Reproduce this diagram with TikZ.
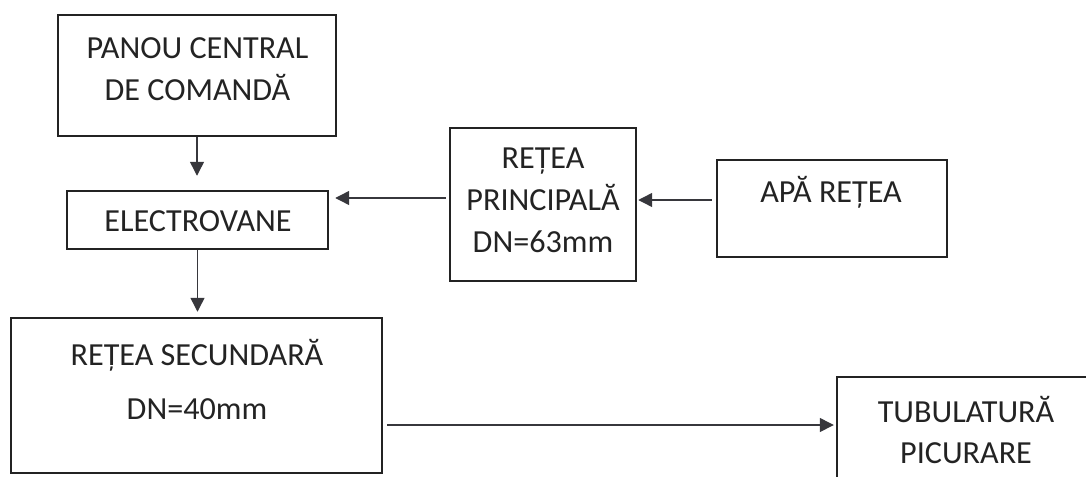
\documentclass[tikz,border=0pt]{standalone}
\usepackage{fontspec}
\setmainfont{Carlito}
\usetikzlibrary{arrows.meta, positioning}
\definecolor{BoxInk}{RGB}{35,35,35}
\definecolor{ArrInk}{RGB}{55,55,60}

\begin{document}
\begin{tikzpicture}[
    blk/.style={rectangle, draw=BoxInk, line width=1.4pt, inner sep=0pt},
    lbl/.style={align=center, text=BoxInk, inner sep=0pt,
                font=\fontsize{18.3}{23.8}\selectfont},
    arr/.style={draw=ArrInk, line width=0.8pt,
                -{Triangle[length=0.28cm, width=0.28cm]}}
  ]
  \useasboundingbox (0,0) rectangle (21.72,9.52);
  \clip (0,0) rectangle (21.72,9.52);

  % Control panel
  \node[blk, minimum width=5.56cm, minimum height=2.42cm] (panou) at (3.94, 8.01) {};
  \node[lbl] (panouT) at (3.95, 8.14) {PANOU CENTRAL\\DE COMANDĂ};

  % Valves
  \node[blk, minimum width=5.22cm, minimum height=1.16cm] (elv) at (3.95, 5.12) {};
  \node[lbl] (elvT) at (3.96, 5.10) {ELECTROVANE};

  % Main network
  \node[blk, minimum width=3.72cm, minimum height=3.06cm] (princ) at (10.86, 5.43) {};
  \node[lbl] (princT) at (10.86, 5.52) {REȚEA\\PRINCIPALĂ\\DN=63mm};

  % Water supply
  \node[blk, minimum width=4.60cm, minimum height=1.94cm] (apa) at (16.64, 5.35) {};
  \node[lbl] (apaT) at (16.62, 5.68) {APĂ REȚEA};

  % Secondary network
  \node[blk, minimum width=7.42cm, minimum height=3.10cm] (sec) at (3.93, 1.61) {};
  \node[lbl] (secT) at (3.94, 1.93) {REȚEA SECUNDARĂ\\[7pt]DN=40mm};

  % Drip tubing
  \node[blk, minimum width=5.16cm, minimum height=2.26cm] (tub) at (19.32, 0.85) {};
  \node[lbl] (tubT) at (19.32, 0.92) {TUBULATURĂ\\PICURARE};

  % Links
  \draw[arr, shorten >=0.28cm] (panou.south) -- (panou.south |- elv.north);
  \draw[arr, shorten >=0.10cm] (elv.south) -- (elv.south |- sec.north);
  \coordinate (pw) at ([yshift=0.13cm]princ.west);
  \draw[arr, shorten <=0.06cm, shorten >=0.12cm] (pw) -- (pw -| elv.east);
  \coordinate (aw) at ([yshift=0.17cm]apa.west);
  \draw[arr, shorten <=0.08cm, shorten >=0.02cm] (aw) -- (aw -| princ.east);
  \coordinate (se) at ([yshift=-0.59cm]sec.east);
  \draw[arr, shorten <=0.08cm, shorten >=0.04cm] (se) -- (se -| tub.west);
\end{tikzpicture}
\end{document}
